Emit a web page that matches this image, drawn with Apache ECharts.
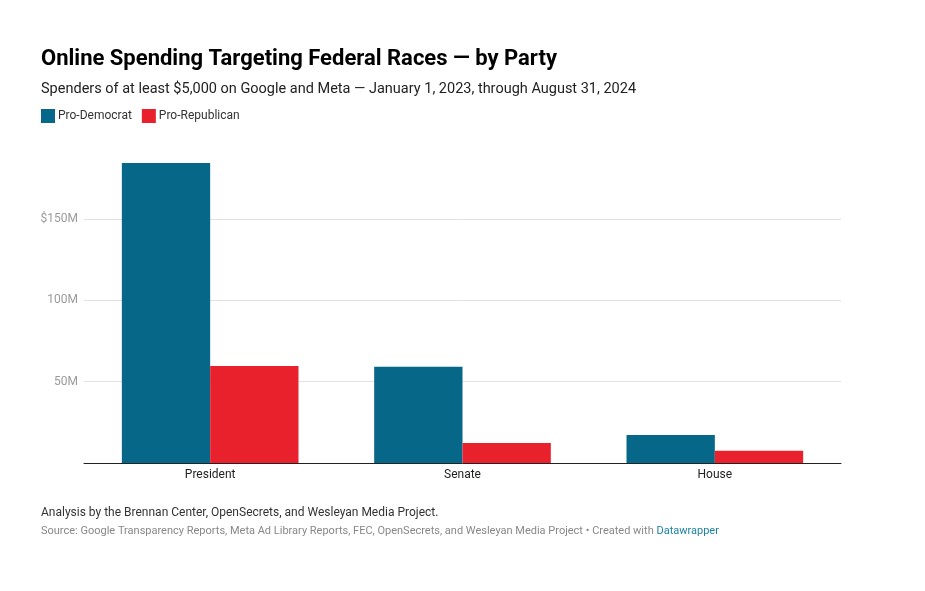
<!DOCTYPE html>
<html>
<head>
<meta charset="utf-8">
<script src="https://cdn.jsdelivr.net/npm/echarts@6/dist/echarts.min.js"></script>
<style>
html,body{margin:0;padding:0;background:#fff;}
#chart{width:925px;height:591px;}
</style>
</head>
<body>
<div id="chart"></div>
<script>
const categories = ['President', 'Senate', 'House'];
const proDemocrat = [184.5, 59.2, 17.2];
const proRepublican = [59.7, 12.3, 7.6];
const yTickLabels = {0: '', 50: '50M', 100: '100M', 150: '$150M', 200: ''};

const chart = echarts.init(document.getElementById('chart'), null, {renderer: 'canvas'});
const FONT = 'Roboto';
chart.setOption({
  backgroundColor: '#ffffff',
  animation: false,
  textStyle: {fontFamily: FONT},
  title: [
    {text: 'Online Spending Targeting Federal Races — by Party', left: 41, top: 48, padding: 0,
     textStyle: {fontFamily: FONT, fontSize: 22, fontWeight: 'bold', color: '#000'}},
    {text: 'Spenders of at least $5,000 on Google and Meta — January 1, 2023, through August 31, 2024', left: 41, top: 81.5, padding: 0,
     textStyle: {fontFamily: FONT, fontSize: 14.5, fontWeight: 'normal', color: '#222'}},
    {text: 'Analysis by the Brennan Center, OpenSecrets, and Wesleyan Media Project.', left: 41, top: 507, padding: 0,
     textStyle: {fontFamily: FONT, fontSize: 12, fontWeight: 'normal', color: '#333'}},
    {text: '{s|Source: Google Transparency Reports, Meta Ad Library Reports, FEC, OpenSecrets, and Wesleyan Media Project • Created with }{b|Datawrapper}', left: 41, top: 526, padding: 0,
     textStyle: {fontFamily: FONT, fontSize: 11, fontWeight: 'normal', color: '#888',
       rich: {s: {fontFamily: FONT, fontSize: 11, color: '#888'}, b: {fontFamily: FONT, fontSize: 11, color: '#1d81a2'}}}}
  ],
  legend: {
    left: 41, top: 109, padding: 0, itemWidth: 14, itemHeight: 14, itemGap: 10,
    icon: 'rect',
    textStyle: {fontFamily: FONT, fontSize: 12, color: '#333', padding: [0, 0, 0, -2]},
    data: ['Pro-Democrat', 'Pro-Republican']
  },
  grid: {left: 84, right: 84, top: 137.8, bottom: 128, containLabel: false},
  xAxis: {
    type: 'category', data: categories,
    axisLine: {lineStyle: {color: '#222', width: 1}},
    axisTick: {show: false},
    axisLabel: {color: '#222', fontSize: 12, fontFamily: FONT, margin: 6}
  },
  yAxis: {
    type: 'value', min: 0, max: 200, interval: 50,
    axisLine: {show: false}, axisTick: {show: false},
    splitLine: {lineStyle: {color: ['#e2e2e2', '#e2e2e2', '#e2e2e2', '#e2e2e2', 'rgba(0,0,0,0)'], width: 1}},
    axisLabel: {color: '#9a9a9a', fontSize: 12, fontFamily: FONT, margin: 6,
      formatter: v => yTickLabels[v] !== undefined ? yTickLabels[v] : ''}
  },
  series: [
    {name: 'Pro-Democrat', type: 'bar', data: proDemocrat, itemStyle: {color: '#066788'},
     barGap: '0%', barCategoryGap: '30%'},
    {name: 'Pro-Republican', type: 'bar', data: proRepublican, itemStyle: {color: '#e9212d'},
     barGap: '0%', barCategoryGap: '30%'}
  ]
});
</script>
</body>
</html>
